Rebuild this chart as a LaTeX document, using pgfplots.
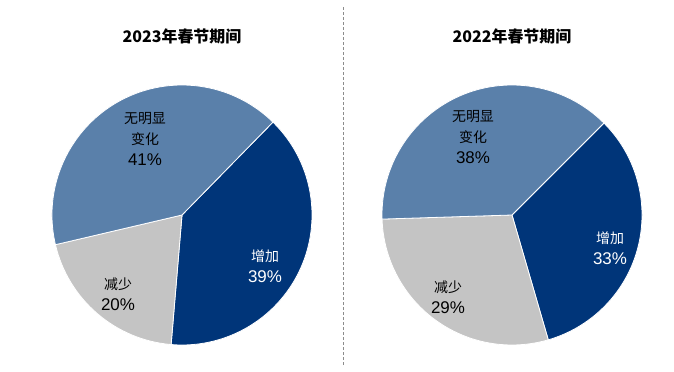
\documentclass[border=0pt]{standalone}
\usepackage{fontspec}
\setmainfont{Liberation Sans}
\newfontfamily\cjk{Noto Sans CJK SC}
\usepackage{pgfplots}
\pgfplotsset{compat=1.18}
\definecolor{navy}{HTML}{003579}
\definecolor{lblue}{HTML}{5A80AA}
\definecolor{lgrey}{HTML}{C4C4C4}
\definecolor{dgrey}{HTML}{8C8C8C}
% shares (%): increase, decrease, no obvious change
\def\incA{39}\def\decA{20}\def\nocA{41}
\def\incB{33}\def\decB{29}\def\nocB{38}
\pgfmathsetmacro{\aA}{45.6}
\pgfmathsetmacro{\bA}{45.6-3.6*\incA}
\pgfmathsetmacro{\cA}{45.6-3.6*(\incA+\decA)}
\pgfmathsetmacro{\dA}{45.6-3.6*(\incA+\decA+\nocA)}
\pgfmathsetmacro{\aB}{45}
\pgfmathsetmacro{\bB}{45-3.6*\incB}
\pgfmathsetmacro{\cB}{45-3.6*(\incB+\decB)}
\pgfmathsetmacro{\dB}{45-3.6*(\incB+\decB+\nocB)}
\newcommand{\wedgeat}[5]{% cx, cy, start, end, colour
  \fill[#5, draw=white, line width=0.8bp] (axis cs:#1,#2) -- ++({#3}:130bp) arc[start angle={#3}, end angle={#4}, radius=130bp] -- cycle;}
\begin{document}
\begin{tikzpicture}
\begin{axis}[
  at={(0,0)}, anchor=south west,
  scale only axis, x=1bp, y=1bp,
  xmin=0, xmax=674, ymin=0, ymax=371,
  hide axis, clip=false]
\coordinate (SW) at (axis cs:0,0);
\coordinate (NE) at (axis cs:674,371);
% left pie: 2023
\wedgeat{182}{156}{\aA}{\bA}{navy}
\wedgeat{182}{156}{\bA}{\cA}{lgrey}
\wedgeat{182}{156}{\cA}{\dA}{lblue}
% right pie: 2022
\wedgeat{512}{156}{\aB}{\bB}{navy}
\wedgeat{512}{156}{\bB}{\cB}{lgrey}
\wedgeat{512}{156}{\cB}{\dB}{lblue}
% divider
\draw[dgrey, line width=1bp, dash pattern=on 3bp off 2bp] (axis cs:343,6) -- (axis cs:343,364);
% titles
\node[font=\fontsize{16}{18}\selectfont\cjk\bfseries] at (axis cs:182,335) {2023年春节期间};
\node[font=\fontsize{16}{18}\selectfont\cjk\bfseries] at (axis cs:512,335) {2022年春节期间};
% labels
\node[align=center, font=\fontsize{14}{21}\selectfont] at (axis cs:145,232) {{\cjk 无明显}\\{\cjk 变化}\\{\fontsize{17}{21}\selectfont 41\%}};
\node[align=center, font=\fontsize{14}{21}\selectfont, text=white] at (axis cs:265,105) {{\cjk 增加}\\{\fontsize{17}{21}\selectfont 39\%}};
\node[align=center, font=\fontsize{14}{21}\selectfont] at (axis cs:118,77) {{\cjk 减少}\\{\fontsize{17}{21}\selectfont 20\%}};
\node[align=center, font=\fontsize{14}{21}\selectfont] at (axis cs:473,234) {{\cjk 无明显}\\{\cjk 变化}\\{\fontsize{17}{21}\selectfont 38\%}};
\node[align=center, font=\fontsize{14}{21}\selectfont, text=white] at (axis cs:610,123) {{\cjk 增加}\\{\fontsize{17}{21}\selectfont 33\%}};
\node[align=center, font=\fontsize{14}{21}\selectfont] at (axis cs:448,74) {{\cjk 减少}\\{\fontsize{17}{21}\selectfont 29\%}};
\end{axis}
\pgfresetboundingbox
\useasboundingbox (SW) rectangle (NE);
\end{tikzpicture}
\end{document}
